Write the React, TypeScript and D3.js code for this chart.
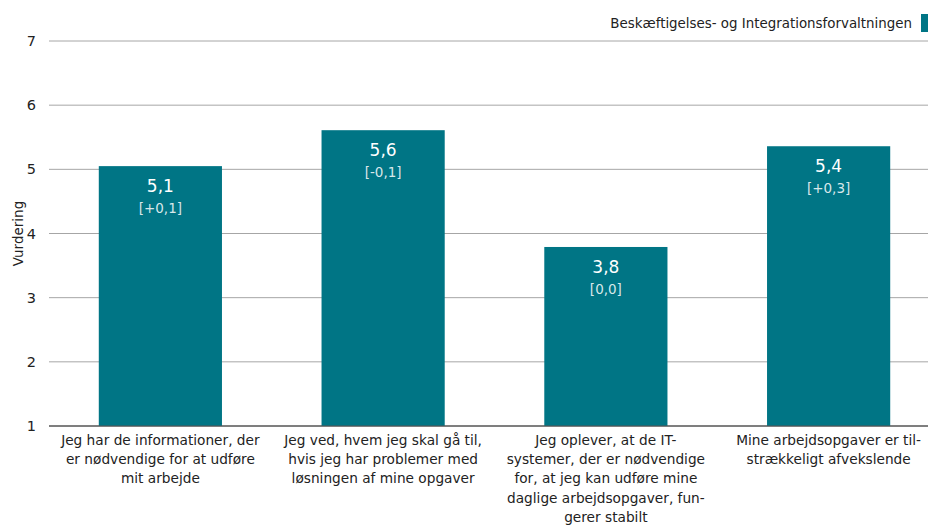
import React from "react";
import * as d3 from "d3";

const categories: string[][] = [
  ["Jeg har de informationer, der", "er nødvendige for at udføre", "mit arbejde"],
  ["Jeg ved, hvem jeg skal gå til,", "hvis jeg har problemer med", "løsningen af mine opgaver"],
  ["Jeg oplever, at de IT-", "systemer, der er nødvendige", "for, at jeg kan udføre mine", "daglige arbejdsopgaver, fun-", "gerer stabilt"],
  ["Mine arbejdsopgaver er til-", "strækkeligt afvekslende"],
];
const values: number[] = [5.05, 5.61, 3.79, 5.36];
const valueLabels: string[] = ["5,1", "5,6", "3,8", "5,4"];
const changeLabels: string[] = ["[+0,1]", "[-0,1]", "[0,0]", "[+0,3]"];
const yTicks: number[] = [1, 2, 3, 4, 5, 6, 7];
const seriesName = "Beskæftigelses- og Integrationsforvaltningen";
const yTitle = "Vurdering";

const W = 928;
const H = 526;
const COLOR = "#007585";
const FONT = "'DejaVu Sans', Verdana, sans-serif";

export default function App() {
  const x = d3
    .scaleBand<number>()
    .domain(d3.range(categories.length))
    .range([49, 940])
    .paddingInner(0.447)
    .paddingOuter(0.2235);
  const y = d3.scaleLinear().domain([1, 7]).range([426, 41]);

  return (
    <svg
      width={W}
      height={H}
      style={{ position: "absolute", left: 0, top: 0, fontFamily: FONT }}
    >
      {yTicks.map((t) => (
        <line
          key={t}
          x1={49}
          x2={928}
          y1={y(t)}
          y2={y(t)}
          stroke={t === 1 ? "#555" : "#a6a6a6"}
          strokeWidth={1}
        />
      ))}
      {yTicks.map((t) => (
        <text
          key={"l" + t}
          x={36}
          y={y(t)}
          dy="0.35em"
          textAnchor="end"
          fontSize={14.5}
          fill="#222"
        >
          {t}
        </text>
      ))}
      <text
        transform={`translate(23,${y(4)}) rotate(-90)`}
        textAnchor="middle"
        fontSize={13.5}
        fill="#222"
      >
        {yTitle}
      </text>
      {values.map((v, i) => (
        <g key={"b" + i}>
          <rect
            x={x(i)!}
            y={y(v)}
            width={x.bandwidth()}
            height={y(1) - y(v)}
            fill={COLOR}
          />
          <text
            x={x(i)! + x.bandwidth() / 2}
            y={y(v) + 26}
            textAnchor="middle"
            fontSize={17}
            fill="#ffffff"
          >
            {valueLabels[i]}
          </text>
          <text
            x={x(i)! + x.bandwidth() / 2}
            y={y(v) + 47}
            textAnchor="middle"
            fontSize={13.5}
            fill="#ffffff"
            fillOpacity={0.85}
          >
            {changeLabels[i]}
          </text>
        </g>
      ))}
      <line x1={49} x2={928} y1={y(1)} y2={y(1)} stroke="#555" strokeWidth={1} />
      {categories.map((lines, i) => (
        <text
          key={"c" + i}
          x={x(i)! + x.bandwidth() / 2}
          y={445}
          textAnchor="middle"
          fontSize={13.7}
          fill="#222"
        >
          {lines.map((ln, j) => (
            <tspan key={j} x={x(i)! + x.bandwidth() / 2} dy={j === 0 ? 0 : 19.2}>
              {ln}
            </tspan>
          ))}
        </text>
      ))}
      <rect x={921} y={14} width={8} height={18} fill={COLOR} />
      <text x={912} y={23} dy="0.35em" textAnchor="end" fontSize={13.4} fill="#222">
        {seriesName}
      </text>
    </svg>
  );
}
